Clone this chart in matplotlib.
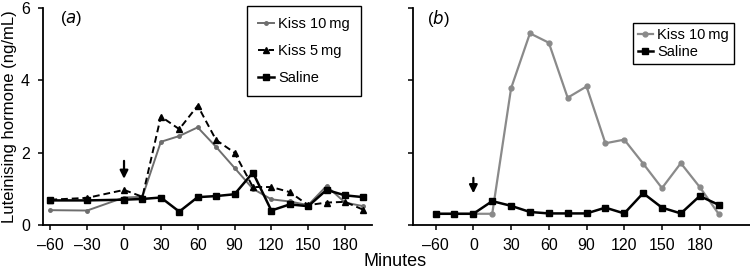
import numpy as np
import matplotlib.pyplot as plt

plt.rcParams['font.family'] = ['Liberation Sans', 'DejaVu Sans']

# panel (a) data, minutes after injection
minutes_a = [-60, -30, 0, 15, 30, 45, 60, 75, 90, 105, 120, 135, 150, 165, 180, 195]
kiss10_a = [0.41, 0.40, 0.76, 0.78, 2.30, 2.46, 2.70, 2.16, 1.58, 1.00, 0.71, 0.65, 0.55, 1.08, 0.62, 0.52]
kiss5_a = [0.70, 0.75, 0.97, 0.78, 3.00, 2.65, 3.30, 2.35, 2.00, 1.05, 1.05, 0.91, 0.55, 0.62, 0.64, 0.42]
saline_a = [0.68, 0.68, 0.70, 0.72, 0.76, 0.37, 0.77, 0.80, 0.85, 1.45, 0.40, 0.57, 0.52, 0.97, 0.82, 0.77]

# panel (b): axis is drawn compressed on the left, -60 tick sits one step left of 0
pos_b = [-30, -15, 0, 15, 30, 45, 60, 75, 90, 105, 120, 135, 150, 165, 180, 195]
kiss10_b = [0.31, 0.31, 0.31, 0.31, 3.78, 5.30, 5.04, 3.52, 3.83, 2.26, 2.36, 1.70, 1.02, 1.71, 1.05, 0.31]
saline_b = [0.31, 0.31, 0.31, 0.66, 0.53, 0.36, 0.32, 0.32, 0.32, 0.48, 0.32, 0.88, 0.48, 0.32, 0.80, 0.56]

xticks_a = [-60, -30, 0, 30, 60, 90, 120, 150, 180]
xticks_b = [-30, 0, 30, 60, 90, 120, 150, 180]
xlabels_b = ['\u201360', '0', '30', '60', '90', '120', '150', '180']

fig = plt.figure(figsize=(7.5, 2.72), dpi=100)
ax1 = fig.add_axes([43/750, 1-225/272, (372-43)/750, (225-8)/272])
ax2 = fig.add_axes([413/750, 1-225/272, (750-413)/750, (225-8)/272])

fs = 11.5
lfs = 10.5

# --- panel a
ax1.plot(minutes_a, kiss10_a, color='#6e6e6e', lw=1.4, marker='o', ms=2.5, label='Kiss 10\u2009mg')
ax1.plot(minutes_a, kiss5_a, color='black', lw=1.4, ls=(0, (3.5, 2)), marker='^', ms=4.5, label='Kiss 5\u2009mg')
ax1.plot(minutes_a, saline_a, color='black', lw=1.8, marker='s', ms=4.5, label='Saline')
ax1.set_xlim(-66, 202)
ax1.set_ylim(0, 6)
ax1.set_xticks(xticks_a)
ax1.set_xticklabels([str(t).replace('-', '\u2013') for t in xticks_a])
ax1.set_yticks([0, 2, 4, 6])
ax1.set_ylabel('Luteinising hormone (ng/mL)', fontsize=12, labelpad=3)
ax1.text(-52, 5.72, '($\\it{a}$)', fontsize=12, va='center')
ax1.annotate('', xy=(0, 1.2), xytext=(0, 1.85),
             arrowprops=dict(arrowstyle='-|>', color='black', lw=1.6, mutation_scale=12))
leg = ax1.legend(loc='upper right', bbox_to_anchor=(0.98, 1.03), fontsize=lfs,
                 handlelength=1.1, labelspacing=0.9, borderpad=0.75, fancybox=False,
                 edgecolor='black', framealpha=1, handletextpad=0.3, borderaxespad=0.3)
leg.get_frame().set_linewidth(1.0)

# --- panel b
ax2.plot(pos_b, kiss10_b, color='#8a8a8a', lw=1.6, marker='o', ms=3.5, label='Kiss 10\u2009mg')
ax2.plot(pos_b, saline_b, color='black', lw=1.8, marker='s', ms=4.5, label='Saline')
ax2.set_xlim(-48, 220)
ax2.set_ylim(0, 6)
ax2.set_xticks(xticks_b)
ax2.set_xticklabels(xlabels_b)
ax2.set_yticks([0, 2, 4, 6])
ax2.set_yticklabels([])
ax2.text(-37, 5.72, '($\\it{b}$)', fontsize=12, va='center')
ax2.annotate('', xy=(0, 0.8), xytext=(0, 1.38),
             arrowprops=dict(arrowstyle='-|>', color='black', lw=1.6, mutation_scale=12))
leg2 = ax2.legend(loc='upper right', bbox_to_anchor=(0.965, 0.95), fontsize=lfs,
                  handlelength=1.0, labelspacing=0.2, borderpad=0.35, fancybox=False,
                  edgecolor='black', framealpha=1, handletextpad=0.3, borderaxespad=0.3)
leg2.get_frame().set_linewidth(1.0)

for ax in (ax1, ax2):
    for s in ('top', 'right'):
        ax.spines[s].set_visible(False)
    for s in ('left', 'bottom'):
        ax.spines[s].set_linewidth(1.3)
    ax.tick_params(labelsize=fs, width=1.1, length=3.5, pad=6)

fig.text(395/750, 1-262/272, 'Minutes', fontsize=13, ha='center', va='center')

plt.savefig('out.png', dpi=100)
